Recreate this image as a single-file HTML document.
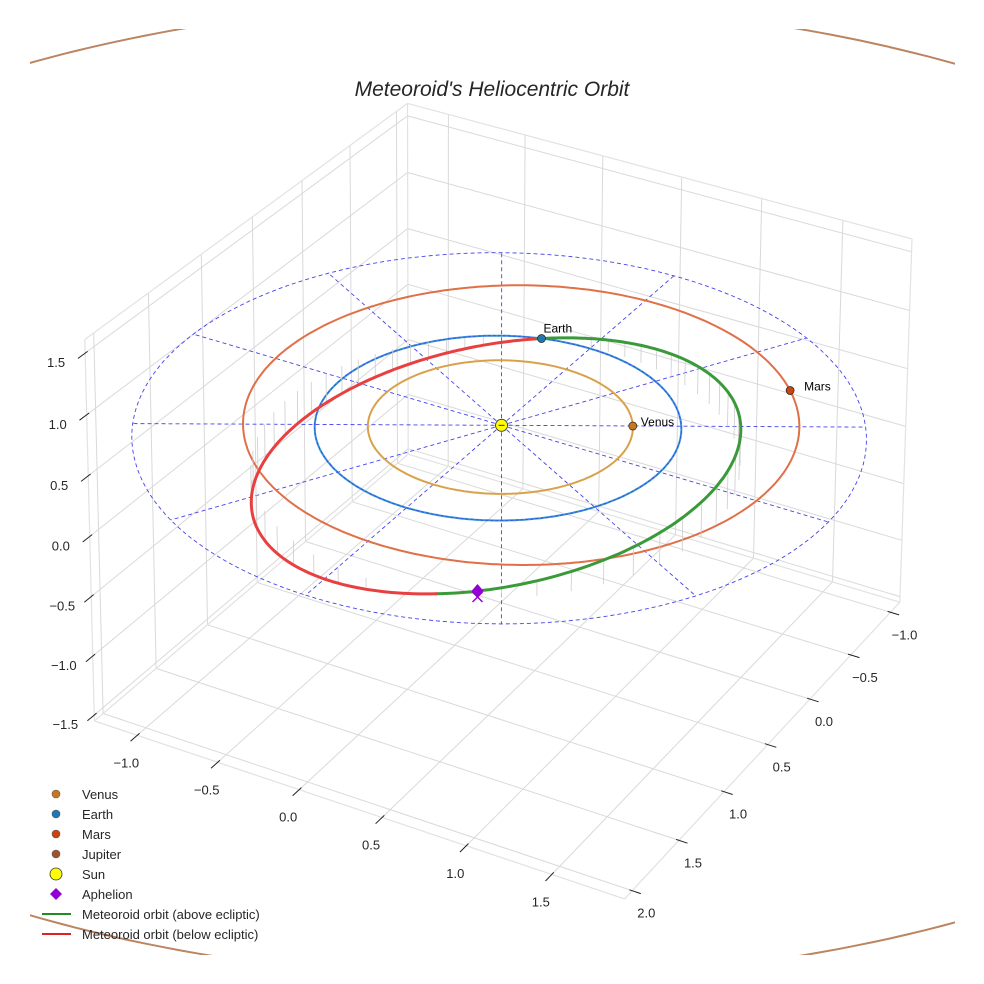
<!DOCTYPE html>
<html><head><meta charset="utf-8">
<style>
html,body{margin:0;padding:0;background:#fff;overflow:hidden;}
svg{display:block;font-family:"Liberation Sans",sans-serif;}
</style></head>
<body>
<svg id="chart" width="984" height="984" viewBox="0 0 984 984">
<defs><clipPath id="figclip"><rect x="30" y="29" width="925" height="926"/></clipPath></defs>
<rect x="0" y="0" width="984" height="984" fill="#fff"/>
<g id="grid"></g>
<g id="ticks"></g>
<g id="plot"></g>
<text x="492" y="96" text-anchor="middle" font-size="21" font-style="italic" fill="#262626">Meteoroid's Heliocentric Orbit</text>
<g id="legend" font-size="13" fill="#262626">
  <g><circle cx="56" cy="794" r="4" fill="#c8781a" stroke="#555" stroke-width="0.6"/><text x="82" y="799">Venus</text></g>
  <g><circle cx="56" cy="814" r="4" fill="#1f77b4" stroke="#555" stroke-width="0.6"/><text x="82" y="819">Earth</text></g>
  <g><circle cx="56" cy="834" r="4" fill="#c94510" stroke="#555" stroke-width="0.6"/><text x="82" y="839">Mars</text></g>
  <g><circle cx="56" cy="854" r="4" fill="#a0522d" stroke="#555" stroke-width="0.6"/><text x="82" y="859">Jupiter</text></g>
  <g><circle cx="56" cy="874" r="6" fill="#ffff00" stroke="#333" stroke-width="0.8"/><text x="82" y="879">Sun</text></g>
  <g><path d="M56 888 L62 894 L56 900 L50 894 Z" fill="#9400d3"/><text x="82" y="899">Aphelion</text></g>
  <g><line x1="42" y1="914" x2="71" y2="914" stroke="#228b22" stroke-width="2"/><text x="82" y="919">Meteoroid orbit (above ecliptic)</text></g>
  <g><line x1="42" y1="934" x2="71" y2="934" stroke="#dd2222" stroke-width="2"/><text x="82" y="939">Meteoroid orbit (below ecliptic)</text></g>
</g>
</svg>
<script>
// ---- data ----
const xTicks = [-1.0,-0.5,0.0,0.5,1.0,1.5,2.0];
const yTicks = [-1.0,-0.5,0.0,0.5,1.0,1.5];
const zTicks = [-1.5,-1.0,-0.5,0.0,0.5,1.0,1.5];
const xRange = [-1.12,2.08];
const yRange = [-1.27,1.92];
const zRange = [-1.55,1.61];
const planetNames = ["Venus","Earth","Mars","Jupiter"];
const planetA = [0.723,1.0,1.524,5.203];
const planetE = [0.0068,0.0167,0.0934,0.0484];
const planetPeri = [131,103,336,14];
const planetLon = [120,197,134,40];
const planetShown = [true,true,true,false];
const meteoroidA = 1.37;
const meteoroidE = 0.28;
const meteoroidPeri = 206;
const meteoroidIncl = 14;
const meteoroidNode = 19;
const eclipticRadius = 2.0;
const spokeAngles = [0,30,60,90,120,150,180,210,240,270,300,330];

// ---- camera calibration (3D reference points -> screen pixels) ----
const [x0,x1]=xRange,[y0,y1]=yRange,[z0,z1]=zRange;
const calib=[];
[[891,618],[851,660],[809,703],[767,747],[723,792],[677,838],[631,886]].forEach((s,i)=>calib.push([xTicks[i],y1,z0,s[0],s[1]]));
[[141,740],[221,767],[301,793],[382,819],[465,847],[549,874]].forEach((s,i)=>calib.push([x1,yTicks[i],z0,s[0],s[1]]));
[[95,720],[93,659],[91,598],[89,537],[87,474],[85,411],[83,349]].forEach((s,i)=>calib.push([x1,y0,zTicks[i],s[0],s[1]]));
calib.push([x0,y0,z1,400,110]);
calib.push([x0,y0,z0,401,408]);
calib.push([x0,y1,z1,910,233]);
calib.push([x0,y1,z0,893,608]);
calib.push([x1,y0,z1,82,335]);
calib.push([x1,y0,z0,98,726]);
calib.push([x1,y1,z0,619,895]);
function pol(r,deg){const a=deg*Math.PI/180;return [r*Math.cos(a),r*Math.sin(a),0];}
const eclRef=[[0,0,502,426],[2,120,870,426],[2,300,135,426],[2,30,502,620],[2,210,502,258],
  [1,120,687,426],[1,300,317,426],[1,30,502,518],[1,210,502,340],[0.723,120,634,426]];
for(let k=0;k<3;k++)eclRef.forEach(([r,d,u,v])=>{const p=pol(r,d);calib.push([p[0],p[1],p[2],u,v]);});
function solveCam(pts){
  const n=11, A=[], b=[];
  pts.forEach(([X,Y,Z,u,v])=>{A.push([X,Y,Z,1,0,0,0,0,-u*X,-u*Y,-u*Z]);b.push(u);A.push([0,0,0,0,X,Y,Z,1,-v*X,-v*Y,-v*Z]);b.push(v);});
  const M=[];for(let i=0;i<n;i++){M.push(new Array(n+1).fill(0));for(let j=0;j<n;j++)for(let k=0;k<A.length;k++)M[i][j]+=A[k][i]*A[k][j];for(let k=0;k<A.length;k++)M[i][n]+=A[k][i]*b[k];}
  for(let c=0;c<n;c++){let p=c;for(let r=c+1;r<n;r++)if(Math.abs(M[r][c])>Math.abs(M[p][c]))p=r;[M[c],M[p]]=[M[p],M[c]];
    for(let r=0;r<n;r++){if(r===c)continue;const f=M[r][c]/M[c][c];for(let k=c;k<=n;k++)M[r][k]-=f*M[c][k];}}
  return M.map((row,i)=>row[n]/row[i]);
}
const C=solveCam(calib);
function P(x,y,z){const w=C[8]*x+C[9]*y+C[10]*z+1;return [(C[0]*x+C[1]*y+C[2]*z+C[3])/w,(C[4]*x+C[5]*y+C[6]*z+C[7])/w];}

const NS='http://www.w3.org/2000/svg';
function el(tag,attrs,parent){const e=document.createElementNS(NS,tag);for(const k in attrs)e.setAttribute(k,attrs[k]);parent.appendChild(e);return e;}
function line3(a,b,attrs,parent,name){const p=P(...a),q=P(...b);
  const e=el('line',Object.assign({x1:p[0].toFixed(1),y1:p[1].toFixed(1),x2:q[0].toFixed(1),y2:q[1].toFixed(1)},attrs),parent);
  
  
  return e;}
function poly(pts,attrs,parent,name){
  const e=el('polyline',Object.assign({points:pts.map(p=>p[0].toFixed(1)+','+p[1].toFixed(1)).join(' '),fill:'none'},attrs),parent);
  
  
  return e;}

const grid=document.getElementById('grid'), ticks=document.getElementById('ticks'), plot=document.getElementById('plot');
const G={stroke:'#d9d9d9','stroke-width':1};
xTicks.forEach(x=>line3([x,y0,z0],[x,y1,z0],G,grid,'floor-gridline-x'));
yTicks.forEach(y=>line3([x0,y,z0],[x1,y,z0],G,grid,'floor-gridline-y'));
xTicks.forEach(x=>line3([x,y0,z0],[x,y0,z1],G,grid,'wall-gridline-x'));
zTicks.forEach(z=>line3([x0,y0,z],[x1,y0,z],G,grid,'wall-gridline-z'));
yTicks.forEach(y=>line3([x0,y,z0],[x0,y,z1],G,grid,'wall-gridline-y'));
zTicks.forEach(z=>line3([x0,y0,z],[x0,y1,z],G,grid,'wall-gridline-z'));
const E={stroke:'#e2e2e2','stroke-width':1.2};
[[[x0,y0,z0],[x1,y0,z0]],[[x0,y0,z0],[x0,y1,z0]],[[x1,y0,z0],[x1,y1,z0]],[[x0,y1,z0],[x1,y1,z0]],
 [[x1,y0,z0],[x1,y0,z1]],[[x0,y0,z0],[x0,y0,z1]],[[x0,y1,z0],[x0,y1,z1]],
 [[x0,y0,z1],[x1,y0,z1]],[[x0,y0,z1],[x0,y1,z1]]].forEach(s=>line3(s[0],s[1],E,grid,'pane-edge'));

function tickMark(a,dir,name){const p=P(...a),q=P(a[0]+dir[0],a[1]+dir[1],a[2]+dir[2]);
  let dx=q[0]-p[0],dy=q[1]-p[1];const L=Math.hypot(dx,dy);dx/=L;dy/=L;
  const e=el('line',{x1:(p[0]-dx*3).toFixed(1),y1:(p[1]-dy*3).toFixed(1),x2:(p[0]+dx*9).toFixed(1),y2:(p[1]+dy*9).toFixed(1),stroke:'#222','stroke-width':1},ticks);
  
  
  return p;}
function label(x,y,txt,name){const t=el('text',{x:x.toFixed(1),y:y.toFixed(1),'text-anchor':'middle','font-size':13,fill:'#262626'},ticks);t.textContent=txt;
  
  }
function fmt(v){return (v<0?'\u2212':'')+Math.abs(v).toFixed(1);}
xTicks.forEach(x=>{const p=tickMark([x,y1,z0],[0,0.1,0],'x-tick');label(p[0]+14,p[1]+27,fmt(x),'x-tick-label');});
yTicks.forEach(y=>{const p=tickMark([x1,y,z0],[0.1,0,0],'y-tick');label(p[0]-11,p[1]+32,fmt(y),'y-tick-label');});
zTicks.forEach(z=>{const p=tickMark([x1,y0,z],[0.1,0,0],'z-tick');label(p[0]-29,p[1]+14,fmt(z),'z-tick-label');});

const D={stroke:'#4444ee','stroke-width':0.9,'stroke-dasharray':'4,3',fill:'none'};
const ring=[];for(let t=0;t<=360;t+=2){const a=t*Math.PI/180;ring.push(P(eclipticRadius*Math.cos(a),eclipticRadius*Math.sin(a),0));}
poly(ring,D,plot,'ecliptic-ring');
spokeAngles.forEach(t=>{const a=t*Math.PI/180;line3([0,0,0],[eclipticRadius*Math.cos(a),eclipticRadius*Math.sin(a),0],D,plot,'ecliptic-spoke');});

const orbitColors=['#d9a24a','#3a90d8','#e07048','#bb8562'];
const markerColors=['#c8781a','#1f77b4','#c94510','#a0522d'];
function rOf(a,e,peri,th){return a*(1-e*e)/(1+e*Math.cos((th-peri)*Math.PI/180));}
const jg=el('g',{'clip-path':'url(#figclip)'},plot);
planetNames.forEach((n,i)=>{
  const pts=[];for(let t=0;t<=360;t+=1){const r=rOf(planetA[i],planetE[i],planetPeri[i],t),a=t*Math.PI/180;pts.push(P(r*Math.cos(a),r*Math.sin(a),0));}
  if(i===3){
    let seg=[];const segs=[];pts.forEach(p=>{if(p[1]<-2000||p[1]>3000||!isFinite(p[0])){if(seg.length)segs.push(seg);seg=[];}else seg.push(p);});if(seg.length)segs.push(seg);
    segs.forEach(s=>poly(s,{stroke:orbitColors[i],'stroke-width':2},jg,'orbit-jupiter'));
  } else poly(pts,{stroke:orbitColors[i],'stroke-width':2},plot,'orbit-'+n.toLowerCase());
  if(i===1) poly(pts,{stroke:'#3050e0','stroke-width':0.8,'stroke-dasharray':'3,2'},plot,'earth-orbit-dashed');
});

const sinI=Math.sin(meteoroidIncl*Math.PI/180);
function met(t){const r=rOf(meteoroidA,meteoroidE,meteoroidPeri,t),a=t*Math.PI/180;
  return [r*Math.cos(a),r*Math.sin(a),r*sinI*Math.sin((t-meteoroidNode)*Math.PI/180)];}
for(let t=0;t<360;t+=6){const m=met(t);if(Math.abs(m[2])<0.06)continue;
  line3(m,[m[0],m[1],0],{stroke:'#cccccc','stroke-width':0.8},plot,'orbit-stem');}
const above=[],below=[];
for(let t=meteoroidNode;t<=meteoroidNode+180;t+=1)above.push(P(...met(t)));
for(let t=meteoroidNode+180;t<=meteoroidNode+360;t+=1)below.push(P(...met(t)));
poly(above,{stroke:'#3a9a3a','stroke-width':3,'stroke-linecap':'round'},plot,'meteoroid-orbit-above');
poly(below,{stroke:'#e84040','stroke-width':3,'stroke-linecap':'round'},plot,'meteoroid-orbit-below');

const labOff=[[8,0],[2,-6],[14,0]];
planetNames.forEach((n,i)=>{if(!planetShown[i])return;
  const t=planetLon[i],r=rOf(planetA[i],planetE[i],planetPeri[i],t),a=t*Math.PI/180;const p=P(r*Math.cos(a),r*Math.sin(a),0);
  const c=el('circle',{cx:p[0].toFixed(1),cy:p[1].toFixed(1),r:4,fill:markerColors[i],stroke:'#222','stroke-width':0.7},plot);
  
  
  const tx=el('text',{x:(p[0]+labOff[i][0]).toFixed(1),y:(p[1]+labOff[i][1]).toFixed(1),'font-size':12,fill:'#000'},plot);tx.textContent=n;
  
  
});
const sp=P(0,0,0);
const sun=el('circle',{cx:sp[0],cy:sp[1],r:6,fill:'#ffff00',stroke:'#333','stroke-width':0.9},plot);


el('line',{x1:sp[0]-3,y1:sp[1],x2:sp[0]+3,y2:sp[1],stroke:'#333','stroke-width':1},plot);
const am=met(meteoroidPeri+180);const ap=P(...am);
const ad=el('path',{d:`M${ap[0]} ${ap[1]-7} L${ap[0]+6} ${ap[1]} L${ap[0]} ${ap[1]+7} L${ap[0]-6} ${ap[1]} Z`,fill:'#9400d3'},plot);


el('path',{d:`M${ap[0]-5} ${ap[1]+1} L${ap[0]+5} ${ap[1]+11} M${ap[0]+5} ${ap[1]+1} L${ap[0]-5} ${ap[1]+11}`,stroke:'#9400d3','stroke-width':1.5,fill:'none'},plot);
</script>
</body></html>
